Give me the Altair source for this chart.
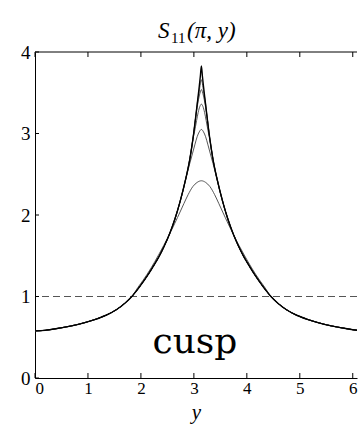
import numpy as np
import pandas as pd
import altair as alt

PEAK = np.pi  # every curve is symmetric about y = pi

# Sharpest (cusp) curve: offset from the peak and S11 value
cusp_d = [0, 0.02, 0.04, 0.07, 0.11, 0.16, 0.22, 0.30, 0.40, 0.50, 0.60, 0.70,
          0.80, 0.90, 1.00, 1.10, 1.20, 1.30, 1.45, 1.60, 1.80, 2.00, 2.20,
          2.45, 2.70, 2.95, np.pi]
cusp_s = [3.83, 3.70, 3.58, 3.41, 3.19, 2.93, 2.68, 2.43, 2.17, 1.95, 1.77, 1.62,
          1.49, 1.38, 1.275, 1.18, 1.09, 1.01, 0.915, 0.84, 0.77, 0.72, 0.68,
          0.64, 0.61, 0.585, 0.578]

# Rounded curves: their own values near the peak, then they follow the cusp curve
round_a_d = [0, 0.08, 0.16, 0.25, 0.33, 0.45, 0.62, 0.80, 0.95, 1.10, 1.20]
round_a_s = [2.42, 2.40, 2.35, 2.25, 2.14, 1.97, 1.74, 1.52, 1.35, 1.20, 1.11]
round_b_d = [0, 0.04, 0.08, 0.12, 0.17, 0.22, 0.26]
round_b_s = [3.05, 3.02, 2.96, 2.87, 2.75, 2.63, 2.53]
round_c_d = [0, 0.03, 0.06, 0.09, 0.13]
round_c_s = [3.36, 3.33, 3.26, 3.16, 3.02]
round_d_d = [0, 0.02, 0.04, 0.07]
round_d_s = [3.54, 3.51, 3.46, 3.36]
round_e_d = [0, 0.02, 0.04]
round_e_s = [3.66, 3.61, 3.52]

x_tick_values = [0, 1, 2, 3, 4, 5, 6]
y_tick_values = [0, 1, 2, 3, 4]
reference_level = [1.0]
label_text = ["cusp"]
title_parts = ["S", "11", "(π, y)"]

W, H = 322, 326
SERIF = "Liberation Serif"


def full_curve(name, d, s):
    """Join a core (offset, value) list with the cusp tail, mirrored about the peak."""
    last = d[-1]
    dd = list(d) + [v for v in cusp_d if v > last]
    ss = list(s) + [cusp_s[i] for i, v in enumerate(cusp_d) if v > last]
    xs = [PEAK - v for v in reversed(dd)] + [PEAK + v for v in dd[1:]]
    vs = list(reversed(ss)) + ss[1:]
    return pd.DataFrame({"y": xs, "S": vs, "curve": name})


smooth_df = pd.concat([
    full_curve("a", round_a_d, round_a_s),
    full_curve("b", round_b_d, round_b_s),
    full_curve("c", round_c_d, round_c_s),
    full_curve("d", round_d_d, round_d_s),
    full_curve("e", round_e_d, round_e_s),
])
cusp_df = full_curve("cusp", cusp_d, cusp_s)

x_scale = alt.Scale(domain=[0, 6.08], nice=False, zero=False)
y_scale = alt.Scale(domain=[0, 4], nice=False)

x_axis = alt.Axis(values=x_tick_values, format="d", ticks=False, grid=False,
                  domainColor="black", labelFont=SERIF, labelFontSize=17,
                  labelColor="black", labelPadding=2,
                  title="y", titleFont=SERIF, titleFontStyle="italic",
                  titleFontWeight="normal", titleFontSize=21, titleColor="black",
                  titlePadding=5)
y_axis = alt.Axis(values=y_tick_values, format="d", ticks=False, grid=False,
                  domainColor="black", labelFont=SERIF, labelFontSize=19,
                  labelColor="black", labelPadding=5, title=None)

smooth = alt.Chart(smooth_df).mark_line(
    color="#444", strokeWidth=0.9, interpolate="monotone", clip=True
).encode(
    x=alt.X("y:Q", scale=x_scale, axis=x_axis),
    y=alt.Y("S:Q", scale=y_scale, axis=y_axis),
    detail="curve:N",
)

cusp = alt.Chart(cusp_df).mark_line(
    color="black", strokeWidth=1.4, interpolate="monotone", clip=True
).encode(x="y:Q", y="S:Q")

level = alt.Chart(pd.DataFrame({"v": reference_level})).mark_rule(
    color="#555", strokeWidth=1, strokeDash=[7, 4]
).encode(y="v:Q")

xt = pd.DataFrame({"t": x_tick_values})
yt = pd.DataFrame({"t": y_tick_values})
bottom_ticks = alt.Chart(xt).mark_rule(color="black").encode(
    x="t:Q", y=alt.value(H), y2=alt.value(H - 5))
top_ticks = alt.Chart(xt).mark_rule(color="black").encode(
    x="t:Q", y=alt.value(0), y2=alt.value(5))
left_ticks = alt.Chart(yt).mark_rule(color="black").encode(
    y="t:Q", x=alt.value(0), x2=alt.value(4))
top_border = alt.Chart(pd.DataFrame({"k": [0]})).mark_rule(color="black").encode(
    x=alt.value(0), x2=alt.value(W), y=alt.value(0))

word = alt.Chart(pd.DataFrame({"txt": label_text, "px": [3.02], "py": [0.31]})).mark_text(
    font="DejaVu Serif", fontSize=36, color="black", baseline="alphabetic", align="center"
).encode(x="px:Q", y="py:Q", text="txt:N")

# Title S_11(pi, y) with a lowered subscript
title_df = pd.DataFrame({
    "txt": title_parts,
    "tx": [123, 136, 152],
    "ty": [-14, -9, -14],
    "st": ["italic", "normal", "italic"],
})
title_main = alt.Chart(title_df[title_df.st == "italic"]).mark_text(
    font=SERIF, fontSize=23, fontStyle="italic", color="black",
    baseline="alphabetic", align="left"
).encode(x=alt.X("tx:Q", scale=None), y=alt.Y("ty:Q", scale=None), text="txt:N")
title_sub = alt.Chart(title_df[title_df.st == "normal"]).mark_text(
    font=SERIF, fontSize=15, color="black", baseline="alphabetic", align="left"
).encode(x=alt.X("tx:Q", scale=None), y=alt.Y("ty:Q", scale=None), text="txt:N")

chart = alt.layer(
    level, smooth, cusp, bottom_ticks, top_ticks, left_ticks, top_border, word,
    title_main, title_sub
).properties(
    width=W, height=H,
    autosize=alt.AutoSizeParams(type="none"),
    padding={"left": 35, "top": 52, "right": 1, "bottom": 46},
    background="white",
).configure_view(strokeWidth=0)

chart.save("out.html", embed_options={"renderer": "svg", "actions": False})
